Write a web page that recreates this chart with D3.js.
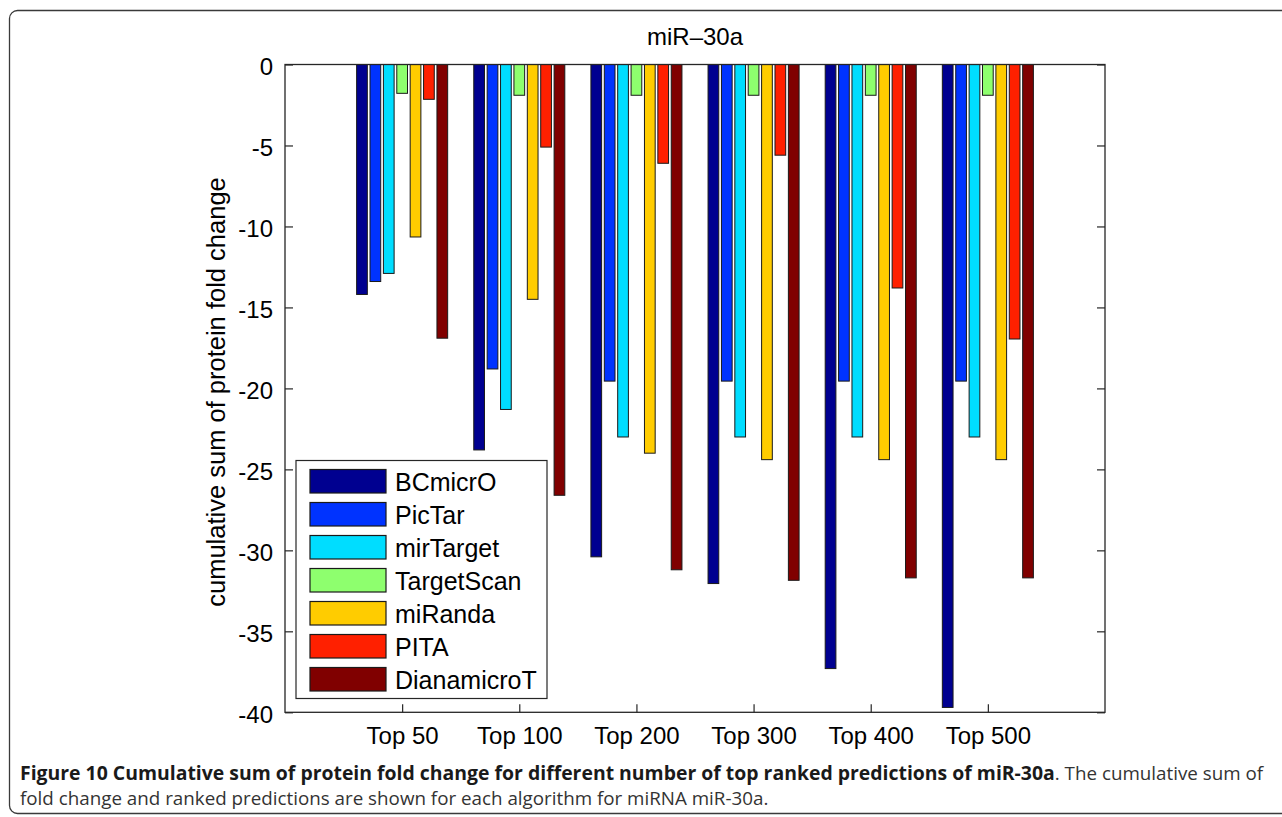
<!DOCTYPE html>
<html>
<head>
<meta charset="utf-8">
<script src="https://cdn.jsdelivr.net/npm/d3@7"></script>
<style>
  html, body { margin: 0; padding: 0; background: #fff; }
  svg { display: block; }
</style>
</head>
<body>
<svg id="chart" width="1282" height="817"></svg>
<script>
const categories = ["Top 50", "Top 100", "Top 200", "Top 300", "Top 400", "Top 500"];
const seriesNames = ["BCmicrO", "PicTar", "mirTarget", "TargetScan", "miRanda", "PITA", "DianamicroT"];
const seriesColors = ["#000090", "#0033ff", "#00ddff", "#8eff6e", "#ffcc00", "#ff2000", "#800000"];
const BCmicrO     = [-14.2, -23.8, -30.4, -32.05, -37.3, -39.7];
const PicTar      = [-13.4, -18.8, -19.55, -19.55, -19.55, -19.55];
const mirTarget   = [-12.9, -21.3, -23.0, -23.0, -23.0, -23.0];
const TargetScan  = [-1.78, -1.9, -1.9, -1.9, -1.9, -1.9];
const miRanda     = [-10.65, -14.5, -24.0, -24.4, -24.4, -24.4];
const PITA        = [-2.15, -5.1, -6.1, -5.6, -13.8, -16.95];
const DianamicroT = [-16.9, -26.6, -31.2, -31.85, -31.7, -31.7];
const yTicks = [0, -5, -10, -15, -20, -25, -30, -35, -40];
const titleText = "miR\u201330a";
const yLabel = "cumulative sum of protein fold change";
const captionBold = "Figure 10 Cumulative sum of protein fold change for different number of top ranked predictions of miR-30a";
const captionRest1 = ". The cumulative sum of";
const captionLine2 = "fold change and ranked predictions are shown for each algorithm for miRNA miR-30a.";

const seriesValues = [BCmicrO, PicTar, mirTarget, TargetScan, miRanda, PITA, DianamicroT];

const svg = d3.select("#chart");
const L = 285, R = 1105, T = 64.5, B = 712.3;
const axisColor = "#262626";
const font = "'Liberation Sans', Arial, Helvetica, sans-serif";

// outer figure frame
svg.append("rect").attr("x", 9.5).attr("y", 10.5).attr("width", 1300).attr("height", 803)
  .attr("rx", 8).attr("fill", "none").attr("stroke", "#3a3a3a").attr("stroke-width", 1.3);

const x = d3.scaleLinear().domain([0, 7]).range([L, R]);
const y = d3.scaleLinear().domain([-40, 0]).range([B, T]);
const inner = d3.scaleBand().domain(seriesNames).range([-0.4, 0.4]).paddingInner(0.2).paddingOuter(0.1);

// bars
const g = svg.append("g");
seriesNames.forEach((s, si) => {
  g.selectAll(null).data(seriesValues[si]).enter().append("rect")
    .attr("x", (d, ci) => x(ci + 1 + inner(s)))
    .attr("width", x(inner.bandwidth()) - x(0))
    .attr("y", y(0))
    .attr("height", d => y(d) - y(0))
    .attr("fill", seriesColors[si])
    .attr("stroke", "#1a1a1a").attr("stroke-width", 1);
});

// axes frame
svg.append("rect").attr("x", L).attr("y", T).attr("width", R - L).attr("height", B - T)
  .attr("fill", "none").attr("stroke", axisColor).attr("stroke-width", 1.3);

// y axis
const yAxisL = d3.axisLeft(y).tickValues(yTicks).tickSizeInner(-8).tickSizeOuter(0).tickPadding(12)
  .tickFormat(d => d === 0 ? "0" : "-" + Math.abs(d));
const ya = svg.append("g").attr("transform", `translate(${L},0)`).call(yAxisL);
ya.select(".domain").remove();
ya.selectAll("line").attr("stroke", axisColor).attr("stroke-width", 1.2);
ya.selectAll("text").attr("font-family", font).attr("font-size", 24).attr("fill", "#000").attr("dy", "0.42em");

const yAxisR = d3.axisRight(y).tickValues(yTicks).tickSizeInner(-8).tickSizeOuter(0).tickFormat("");
const yr = svg.append("g").attr("transform", `translate(${R},0)`).call(yAxisR);
yr.select(".domain").remove();
yr.selectAll("line").attr("stroke", axisColor).attr("stroke-width", 1.2);

// x axis
const xAxis = d3.axisBottom(x).tickValues(d3.range(1, categories.length + 1)).tickSizeInner(-8).tickSizeOuter(0)
  .tickPadding(20).tickFormat(d => categories[d - 1]);
const xa = svg.append("g").attr("transform", `translate(0,${B})`).call(xAxis);
xa.select(".domain").remove();
xa.selectAll("line").attr("stroke", axisColor).attr("stroke-width", 1.2);
xa.selectAll("text").attr("font-family", font).attr("font-size", 24).attr("fill", "#000").attr("dy", "0.5em");

// title
svg.append("text").attr("x", (L + R) / 2).attr("y", 45).attr("text-anchor", "middle")
  .attr("font-family", font).attr("font-size", 24).attr("fill", "#000").text(titleText);

// y label
svg.append("text").attr("transform", `translate(225,392) rotate(-90)`)
  .attr("text-anchor", "middle").attr("font-family", font).attr("font-size", 25.5).attr("fill", "#000").text(yLabel);

// legend
const lg = svg.append("g");
lg.append("rect").attr("x", 296).attr("y", 460.5).attr("width", 251).attr("height", 238)
  .attr("fill", "#fff").attr("stroke", axisColor).attr("stroke-width", 1.2);
seriesNames.forEach((s, i) => {
  const yy = 469.5 + i * 33;
  lg.append("rect").attr("x", 310).attr("y", yy).attr("width", 76).attr("height", 23.5)
    .attr("fill", seriesColors[i]).attr("stroke", "#1a1a1a").attr("stroke-width", 1.2);
  lg.append("text").attr("x", 395).attr("y", yy + 21).attr("font-family", font).attr("font-size", 25)
    .attr("fill", "#000").text(s);
});

// caption
const cf = "'Open Sans', 'Noto Sans', sans-serif";
const cap = svg.append("g");
const t1 = cap.append("text").attr("x", 20).attr("y", 780).attr("font-family", cf).attr("font-size", 16)
  .attr("font-weight", "bold").attr("fill", "#1a1a1a").text(captionBold);
const fsB = 16 * (1055 - 20) / t1.node().getComputedTextLength();
t1.attr("font-size", fsB);
const t3 = cap.append("text").attr("x", 20).attr("y", 805).attr("font-family", cf).attr("font-size", 16)
  .attr("fill", "#333").text(captionLine2);
const fsN = 16 * (769 - 20) / t3.node().getComputedTextLength();
t3.attr("font-size", fsN);
const w1b = t1.node().getComputedTextLength();
cap.append("text").attr("x", 20 + w1b).attr("y", 780).attr("font-family", cf).attr("font-size", fsN)
  .attr("fill", "#333").text(captionRest1);
</script>
</body>
</html>
